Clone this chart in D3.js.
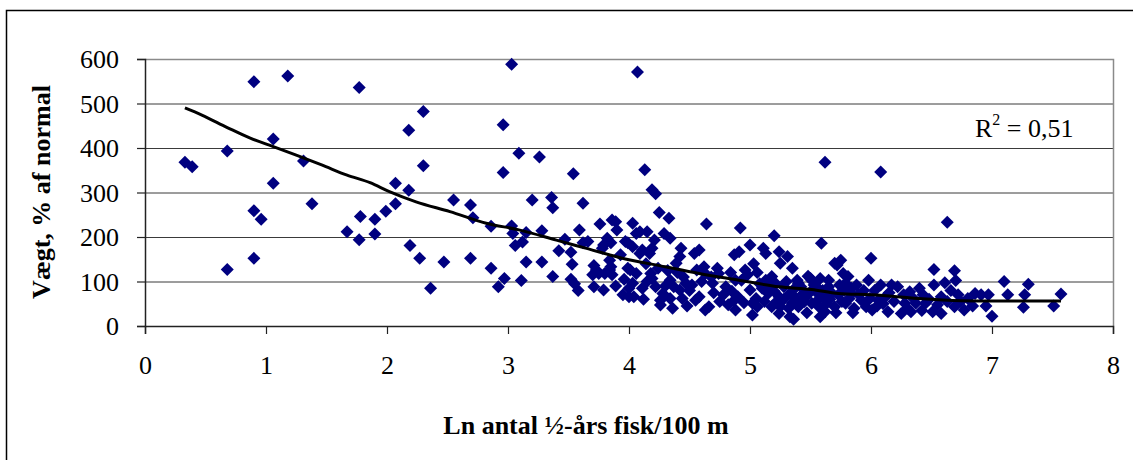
<!DOCTYPE html>
<html lang="da">
<head>
<meta charset="UTF-8">
<title>Vægt mod tæthed af ½-års fisk</title>
<script src="https://d3js.org/d3.v7.min.js"></script>
<style>
  body { margin: 0; background: #fff; }
  .tick text { font-family: 'Liberation Serif', 'Times New Roman', serif; font-size: 26px; fill: #000; }
  .title { font-family: 'Liberation Serif', 'Times New Roman', serif; font-size: 26px; font-weight: bold; }
  .r2 { font-family: 'Liberation Serif', 'Times New Roman', serif; font-size: 26px; }
</style>
</head>
<body>
<div id="chart"></div>
<script>
// axis ticks
const xTicks = [0, 1, 2, 3, 4, 5, 6, 7, 8];
const yTicks = [0, 100, 200, 300, 400, 500, 600];

// observations: [ln antal ½-års fisk/100 m, vægt % af normal]
const obs = [
  [0.33,368],[0.39,358],[0.68,393],[0.90,549],[1.18,562],[1.77,536],[1.06,420],[1.31,371],[1.06,321],[1.38,275],
  [0.90,259],[0.96,240],[0.90,152],[0.68,127],[1.67,212],[1.77,194],[1.90,207],[1.78,246],[1.90,240],[1.99,258],
  [3.03,588],[2.30,482],[2.18,440],[2.96,452],[2.30,360],[3.09,388],[3.26,380],[2.96,345],[3.54,342],[2.07,321],
  [2.18,305],[2.07,275],[2.55,283],[2.69,272],[2.71,243],[2.86,224],[2.19,181],[2.27,152],[2.47,144],[2.36,85],
  [2.69,152],[2.86,130],[2.92,88],[2.97,107],[3.11,102],
  [3.03,225],[3.04,208],[3.06,181],[3.12,189],[3.15,210],[3.15,144],[3.20,283],[3.28,214],[3.28,144],[3.36,289],
  [3.37,266],[3.37,111],[3.42,169],[3.47,195],[3.52,166],[3.53,139],[3.52,105],[3.55,95],[3.58,80],[3.59,216],
  [3.62,276],[3.62,187],[3.66,190],[3.76,229],[3.71,136],[3.70,115],[3.75,118],[3.71,88],[3.79,81],[3.79,182],
  [3.82,197],[3.85,187],[3.84,148],[3.85,133],[3.86,115],[3.86,238],[3.89,234],[3.89,90],[3.90,216],[3.78,175],
  [3.97,190],[3.73,126],[3.80,118],[3.84,126],[3.99,130],[4.00,66],
  [4.07,571],[4.13,351],[4.19,306],[4.22,297],[4.25,255],[4.33,242],[4.64,229],[4.92,220],[5.20,203],[5.59,186],
  [5.62,368],[4.03,231],[4.09,212],[4.15,212],[4.06,208],[4.21,193],[3.99,187],[4.03,178],[4.11,171],[4.17,163],
  [4.09,163],[4.19,175],[4.29,208],[4.34,197],[4.43,175],[4.42,156],[4.39,141],[4.54,163],[4.58,171],[4.01,126],
  [4.06,118],[4.18,118],[4.19,107],[4.03,96],[4.11,85],[4.22,88],[4.28,73],[4.26,58],[4.34,62],[4.42,81],
  [4.44,62],[4.34,103],[4.37,88],[4.47,96],[4.52,92],[4.56,126],[4.62,133],[4.63,118],[4.58,66],[4.55,58],
  [4.66,43],[4.63,36],[4.73,130],[4.74,118],[4.69,96],[4.78,70],[4.80,88],[4.87,58],[4.88,36],[4.87,160],
  [4.91,167],[5.00,182],[4.88,103],[4.93,103],[4.96,126],[4.98,115],[5.00,81],[5.02,51],[5.06,43],[5.02,25],
  [5.10,85],[5.15,73],[5.13,103],[5.18,111],[5.11,175],[5.13,163],[5.24,167],[5.25,141],[5.31,156],[5.35,130],
  [5.21,96],[5.28,88],[5.24,66],[5.25,43],[5.24,28],[5.33,21],[5.35,51],[5.33,73],[5.40,96],[5.44,73],
  [5.40,43],[5.51,103],[5.55,88],[5.57,43],[5.51,51],[5.58,21],[5.61,66],[5.65,103],[5.68,73],[5.70,141],
  [4.04,66],[4.00,85],[4.26,47],
  [5.75,148],[5.72,137],[5.77,118],[5.81,111],[6.00,152],[5.18,43],[5.36,15],[5.39,103],[5.50,107],[5.58,107],
  [5.65,88],[5.73,70],[5.84,73],[5.92,58],[5.96,43],[5.62,32],[5.70,43],[5.79,51],[5.86,40],[5.46,66],
  [5.50,77],[5.57,70],[5.79,96],[5.84,85],
  [6.08,346],[6.63,233],[6.52,127],[6.69,124],[6.52,92],[6.61,97],[6.70,102],[5.98,103],[6.08,92],[6.17,92],
  [6.32,77],[6.43,70],[6.58,66],[6.72,70],[6.86,73],[6.01,36],[6.14,32],[6.25,28],[6.33,32],[6.37,51],
  [6.51,32],[6.58,28],[6.69,43],[6.77,36],[6.06,58],[6.12,66],[6.28,51],[6.45,51],
  [7.10,100],[7.30,94],[6.91,70],[6.97,70],[7.13,70],[7.27,70],[6.95,45],[7.26,42],[7.51,45],[7.00,22],[7.57,72],
  [4.70,75],[4.75,55],[4.82,48],[4.85,78],[4.90,66],[4.95,52],[5.05,62],[5.08,95],[5.12,55],[5.16,90],
  [5.20,78],[5.22,55],[5.28,60],[5.30,100],[5.32,40],[5.37,85],[5.38,62],[5.42,88],[5.45,55],[5.47,30],
  [5.53,92],[5.56,58],[5.60,80],[5.63,50],[5.66,60],[5.71,30],[5.74,92],[5.76,55],[5.78,80],[5.82,62],
  [5.85,30],[5.88,92],[5.90,70],[5.94,80],[5.99,62],[6.03,80],[6.05,45],[6.10,50],[6.15,75],[6.19,55],
  [6.22,88],[6.27,70],[6.30,40],[6.35,62],[6.40,85],[6.42,35],[6.48,60],[6.55,48],[6.63,55],[6.66,80],
  [6.74,55],[6.80,62],[6.84,45],[4.60,100],[4.68,110],[4.84,120],[5.03,140],[5.06,120],[5.48,112],[4.50,80],
  [4.45,110],[4.40,120],[4.48,45],[4.32,125],[4.14,140],[4.24,130],[3.96,105],[3.93,160],[3.95,70],[4.12,60],
  [4.15,100],[4.30,90],[4.36,40]
];

// trend line
const trendX = [0.33,0.47,0.68,0.87,1.06,1.25,1.46,1.67,1.86,2.02,2.24,2.52,2.82,3.09,3.40,3.64,3.92,4.30,4.58,4.91,5.24,5.51,5.73,6.01,6.39,6.75,7.00,7.57];
const trendY = [490,474,446,422,403,384,362,339,322,302,279,257,231,216,193,175,154,133,118,103,88,82,73,70,62,57,56,56];

const width = 1133, height = 460;
const plotLeft = 145, plotRight = 1113, plotTop = 59, plotBottom = 326;

const svg = d3.select('#chart').append('svg')
  .attr('width', width)
  .attr('height', height);

// outer chart frame (right/bottom edges fall outside the picture)
svg.append('path')
  .attr('d', `M6.5,${height + 5}V10.5H${width + 5}`)
  .attr('fill', 'none')
  .attr('stroke', '#000')
  .attr('stroke-width', 1.5);

const x = d3.scaleLinear().domain([0, 8]).range([plotLeft, plotRight]);
const y = d3.scaleLinear().domain([0, 600]).range([plotBottom, plotTop]);

// gridlines
svg.append('g')
  .selectAll('line')
  .data(yTicks.filter(d => d > 0 && d < 600))
  .enter().append('line')
  .attr('x1', plotLeft).attr('x2', plotRight)
  .attr('y1', d => y(d) + 0.5).attr('y2', d => y(d) + 0.5)
  .attr('stroke', '#3a3a3a')
  .attr('stroke-width', 1);

// plot area border top/right
svg.append('path')
  .attr('d', `M${plotLeft},${plotTop + 0.5}H${plotRight + 0.5}V${plotBottom}`)
  .attr('fill', 'none')
  .attr('stroke', '#8a8a8a')
  .attr('stroke-width', 1.5);

const yAxis = svg.append('g')
  .attr('transform', `translate(${plotLeft},0)`)
  .call(d3.axisLeft(y).tickValues(yTicks).tickSize(8).tickPadding(18));

const xAxis = svg.append('g')
  .attr('transform', `translate(0,${plotBottom})`)
  .call(d3.axisBottom(x).tickValues(xTicks).tickSize(8).tickPadding(22));

[xAxis, yAxis].forEach(a => {
  a.select('.domain').attr('stroke', '#222').attr('stroke-width', 1.5);
  a.selectAll('.tick line').attr('stroke', '#222').attr('stroke-width', 1.2);
  a.selectAll('.tick text').attr('font-size', null).attr('font-family', null);
});
yAxis.selectAll('.tick text').attr('dy', '0.34em');

// diamonds
svg.append('g')
  .selectAll('path')
  .data(obs)
  .enter().append('path')
  .attr('transform', d => `translate(${x(d[0])},${y(d[1])})`)
  .attr('d', 'M0,-6.5L6.5,0L0,6.5L-6.5,0Z')
  .attr('fill', '#000080');

// trend line
const trend = trendX.map((v, i) => [v, trendY[i]]);
svg.append('path')
  .datum(trend)
  .attr('d', d3.line().x(d => x(d[0])).y(d => y(d[1])).curve(d3.curveMonotoneX))
  .attr('fill', 'none')
  .attr('stroke', '#000')
  .attr('stroke-width', 3);

// R² label
const r2 = svg.append('text')
  .attr('class', 'r2')
  .attr('x', 975)
  .attr('y', 137);
r2.append('tspan').text('R');
r2.append('tspan').attr('font-size', '16px').attr('dy', -12).text('2');
r2.append('tspan').attr('dy', 12).text(' = 0,51');

// axis titles
svg.append('text')
  .attr('class', 'title')
  .attr('x', 586)
  .attr('y', 434)
  .attr('text-anchor', 'middle')
  .text('Ln antal ½-års fisk/100 m');

svg.append('text')
  .attr('class', 'title')
  .attr('transform', 'translate(50,192) rotate(-90)')
  .attr('text-anchor', 'middle')
  .text('Vægt, % af normal');
</script>
</body>
</html>
